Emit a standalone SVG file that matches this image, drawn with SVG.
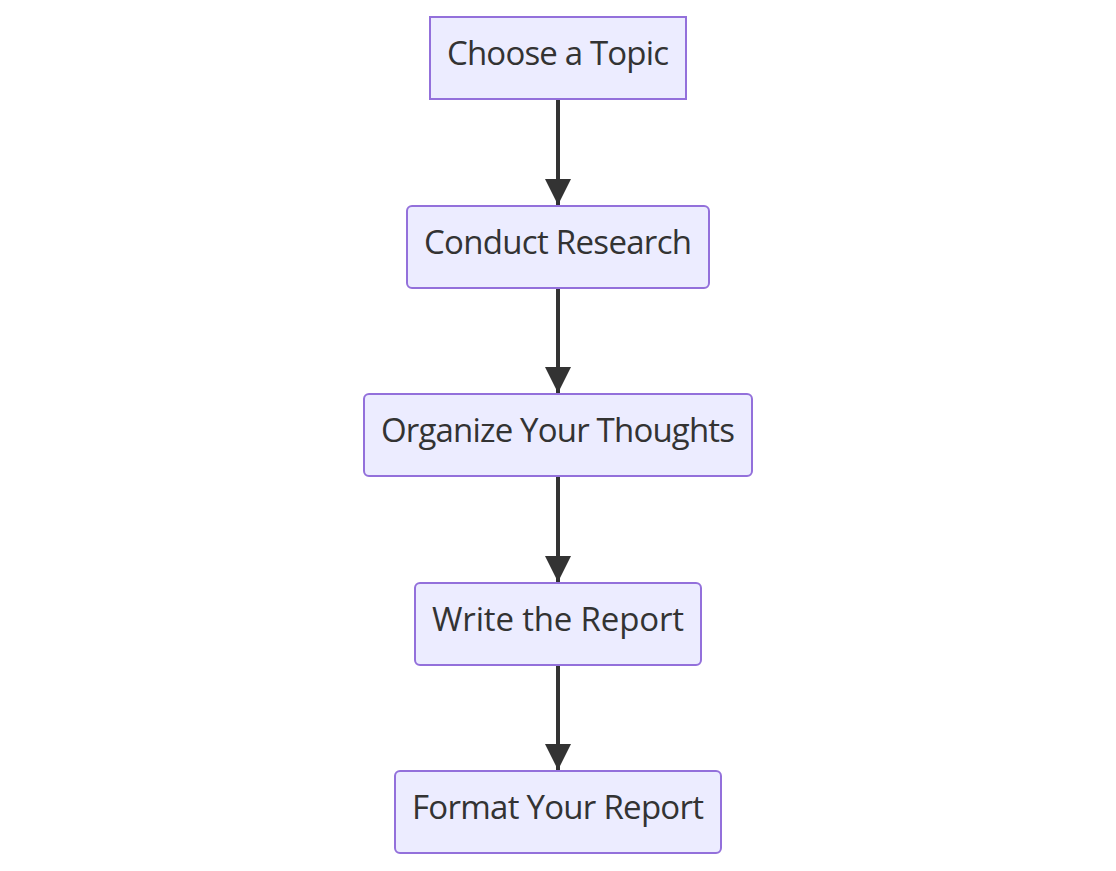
<svg xmlns="http://www.w3.org/2000/svg" width="1116" height="871" viewBox="0 0 1116 871">
<style>
.node rect{fill:#ECECFF;stroke:#9370DB;stroke-width:2}
.node text{font-family:"Open Sans","DejaVu Sans",sans-serif;font-size:33px;fill:#333;text-anchor:middle}
.edge{stroke:#333;stroke-width:4;fill:none}
</style>
<defs>
<marker id="arr" markerUnits="userSpaceOnUse" markerWidth="26" markerHeight="26" refX="24" refY="12" orient="auto" viewBox="0 0 24 24">
<path d="M0,0 L24,12 L0,24 z" fill="#333"/>
</marker>
</defs>
<rect width="1116" height="871" fill="#fff"/>
<g id="connectors">
<path class="edge" d="M558,99 V205" marker-end="url(#arr)"/>
<path class="edge" d="M558,288 V393" marker-end="url(#arr)"/>
<path class="edge" d="M558,476 V582" marker-end="url(#arr)"/>
<path class="edge" d="M558,665 V770" marker-end="url(#arr)"/>
</g>
<g id="n1" class="node"><rect x="430" y="17" width="256" height="82"/><text x="558" y="65" textLength="222">Choose a Topic</text></g>
<g id="n2" class="node"><rect x="407" y="206" width="302" height="82" rx="5"/><text x="558" y="254" textLength="268">Conduct Research</text></g>
<g id="n3" class="node"><rect x="364" y="394" width="388" height="82" rx="5"/><text x="558" y="442" textLength="354">Organize Your Thoughts</text></g>
<g id="n4" class="node"><rect x="415" y="583" width="286" height="82" rx="5"/><text x="558" y="631" textLength="252">Write the Report</text></g>
<g id="n5" class="node"><rect x="395" y="771" width="326" height="82" rx="5"/><text x="558" y="819" textLength="292">Format Your Report</text></g>
</svg>
